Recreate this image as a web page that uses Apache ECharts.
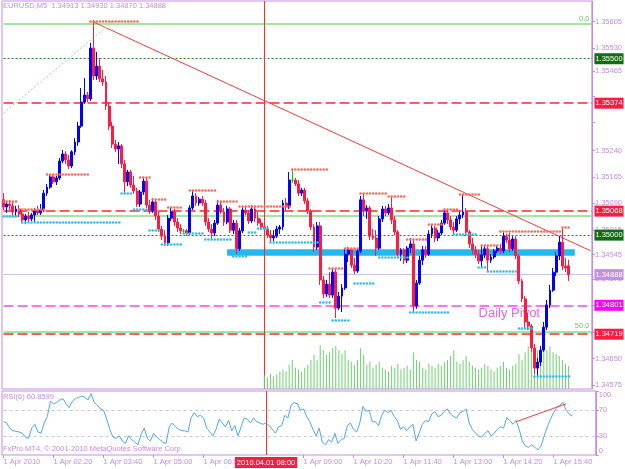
<!DOCTYPE html>
<html><head><meta charset="utf-8">
<script src="https://cdn.jsdelivr.net/npm/echarts@6/dist/echarts.min.js"></script>
<style>html,body{margin:0;padding:0;background:#fff}#c{width:625px;height:469px}</style>
</head><body><div id="c"></div>
<script>
// ---------- DATA ----------
// candles: [open, close, low, high], M5 bars from 01:00 to 16:10
const candles = [
[1.35100,1.35080,1.35071,1.35119],[1.35080,1.35088,1.35063,1.35094],[1.35088,1.35083,1.35071,1.35100],[1.35083,1.35066,1.35057,1.35097],[1.35066,1.35074,1.35054,1.35083],
[1.35074,1.35060,1.35051,1.35085],[1.35060,1.35043,1.35034,1.35071],[1.35043,1.35054,1.35031,1.35060],[1.35054,1.35046,1.35037,1.35066],[1.35046,1.35057,1.35040,1.35063],
[1.35057,1.35068,1.35037,1.35077],[1.35068,1.35063,1.35057,1.35083],[1.35063,1.35071,1.35057,1.35088],[1.35071,1.35119,1.35066,1.35128],[1.35119,1.35136,1.35111,1.35145],
[1.35136,1.35165,1.35131,1.35173],[1.35165,1.35151,1.35145,1.35170],[1.35151,1.35162,1.35142,1.35168],[1.35162,1.35210,1.35156,1.35219],[1.35210,1.35230,1.35204,1.35241],
[1.35230,1.35213,1.35202,1.35238],[1.35213,1.35196,1.35187,1.35227],[1.35196,1.35236,1.35190,1.35241],[1.35236,1.35264,1.35227,1.35275],[1.35264,1.35309,1.35253,1.35321],
[1.35309,1.35377,1.35304,1.35417],[1.35377,1.35397,1.35372,1.35445],[1.35397,1.35386,1.35377,1.35406],[1.35386,1.35530,1.35380,1.35545],[1.35530,1.35451,1.35440,1.35610],
[1.35451,1.35479,1.35440,1.35519],[1.35479,1.35443,1.35434,1.35502],[1.35443,1.35434,1.35423,1.35468],[1.35434,1.35366,1.35355,1.35451],[1.35366,1.35309,1.35298,1.35377],
[1.35309,1.35258,1.35247,1.35321],[1.35258,1.35244,1.35236,1.35270],[1.35244,1.35253,1.35202,1.35264],[1.35253,1.35202,1.35190,1.35258],[1.35202,1.35151,1.35119,1.35213],
[1.35151,1.35179,1.35139,1.35185],[1.35179,1.35142,1.35134,1.35185],[1.35142,1.35125,1.35117,1.35168],[1.35125,1.35088,1.35080,1.35134],[1.35088,1.35122,1.35080,1.35128],
[1.35122,1.35153,1.35114,1.35165],[1.35153,1.35085,1.35077,1.35162],[1.35085,1.35068,1.35060,1.35100],[1.35068,1.35094,1.35063,1.35105],[1.35094,1.35054,1.35043,1.35100],
[1.35054,1.35017,1.35009,1.35066],[1.35017,1.34997,1.34986,1.35026],[1.34997,1.34978,1.34969,1.35014],[1.34978,1.35048,1.34969,1.35057],[1.35048,1.35066,1.35040,1.35080],
[1.35066,1.35037,1.35026,1.35074],[1.35037,1.35020,1.35009,1.35048],[1.35020,1.35012,1.35003,1.35031],[1.35012,1.35012,1.35006,1.35017],[1.35012,1.35006,1.34997,1.35017],
[1.35006,1.35077,1.35000,1.35085],[1.35077,1.35111,1.35071,1.35128],[1.35111,1.35091,1.35083,1.35119],[1.35091,1.35102,1.35083,1.35108],[1.35102,1.35091,1.35083,1.35111],
[1.35091,1.35037,1.35026,1.35100],[1.35037,1.35017,1.35009,1.35048],[1.35017,1.35006,1.34986,1.35031],[1.35006,1.35034,1.34997,1.35043],[1.35034,1.35085,1.35029,1.35100],
[1.35085,1.35066,1.35060,1.35094],[1.35066,1.35037,1.35026,1.35077],[1.35037,1.35074,1.35031,1.35083],[1.35074,1.35014,1.35006,1.35080],[1.35014,1.35034,1.35003,1.35043],
[1.35034,1.34961,1.34946,1.35043],[1.34961,1.35012,1.34955,1.35020],[1.35012,1.35071,1.35006,1.35080],[1.35071,1.35063,1.35057,1.35083],[1.35063,1.35040,1.35031,1.35071],
[1.35040,1.35074,1.35034,1.35085],[1.35074,1.35048,1.35037,1.35083],[1.35048,1.35034,1.35026,1.35066],[1.35034,1.35023,1.35014,1.35046],[1.35023,1.35017,1.35009,1.35037],
[1.35017,1.35000,1.34992,1.35026],[1.35000,1.34992,1.34980,1.35014],[1.34992,1.34997,1.34983,1.35014],[1.34997,1.35017,1.34992,1.35026],[1.35017,1.35023,1.35003,1.35029],
[1.35023,1.35091,1.35014,1.35100],[1.35091,1.35080,1.35071,1.35105],[1.35080,1.35156,1.35074,1.35179],[1.35156,1.35156,1.35148,1.35187],[1.35156,1.35145,1.35139,1.35162],
[1.35145,1.35119,1.35111,1.35156],[1.35119,1.35128,1.35111,1.35134],[1.35128,1.35097,1.35088,1.35134],[1.35097,1.35068,1.35060,1.35105],[1.35068,1.35023,1.35014,1.35074],
[1.35023,1.34966,1.34952,1.35031],[1.34966,1.35026,1.34958,1.35037],[1.35026,1.34873,1.34859,1.35037],[1.34873,1.34833,1.34822,1.34884],[1.34833,1.34861,1.34825,1.34873],
[1.34861,1.34830,1.34822,1.34895],[1.34830,1.34895,1.34822,1.34907],[1.34895,1.34793,1.34765,1.34907],[1.34793,1.34827,1.34788,1.34839],[1.34827,1.34850,1.34782,1.34861],
[1.34850,1.34946,1.34844,1.34963],[1.34946,1.34958,1.34924,1.34966],[1.34958,1.34915,1.34907,1.34963],[1.34915,1.34898,1.34890,1.34935],[1.34898,1.34955,1.34893,1.34963],
[1.34955,1.35100,1.34949,1.35111],[1.35100,1.35068,1.35054,1.35119],[1.35068,1.35077,1.35046,1.35085],[1.35077,1.34997,1.34986,1.35083],[1.34997,1.34992,1.34986,1.35017],
[1.34992,1.34963,1.34941,1.35014],[1.34963,1.35046,1.34958,1.35054],[1.35046,1.35074,1.35037,1.35083],[1.35074,1.35063,1.35054,1.35083],[1.35063,1.35077,1.35057,1.35088],
[1.35077,1.35043,1.35031,1.35111],[1.35043,1.35009,1.35000,1.35054],[1.35009,1.34946,1.34935,1.35014],[1.34946,1.34958,1.34927,1.34963],[1.34958,1.34929,1.34918,1.34963],
[1.34929,1.34963,1.34921,1.34969],[1.34963,1.34975,1.34949,1.34992],[1.34975,1.34799,1.34782,1.34986],[1.34799,1.34864,1.34791,1.34873],[1.34864,1.34929,1.34859,1.34941],
[1.34929,1.34958,1.34915,1.34969],[1.34958,1.34946,1.34935,1.34969],[1.34946,1.35003,1.34941,1.35014],[1.35003,1.35020,1.34992,1.35031],[1.35020,1.34992,1.34980,1.35026],
[1.34992,1.35006,1.34983,1.35014],[1.35006,1.35034,1.35000,1.35043],[1.35034,1.35063,1.35029,1.35071],[1.35063,1.35043,1.35031,1.35074],[1.35043,1.35023,1.35014,1.35054],
[1.35023,1.35014,1.35003,1.35037],[1.35014,1.35046,1.35009,1.35054],[1.35046,1.35057,1.35031,1.35066],[1.35057,1.35066,1.35048,1.35117],[1.35066,1.35009,1.34997,1.35077],
[1.35009,1.34975,1.34963,1.35014],[1.34975,1.34958,1.34946,1.34992],[1.34958,1.34946,1.34935,1.34969],[1.34946,1.34927,1.34918,1.34958],[1.34927,1.34944,1.34910,1.34972],
[1.34944,1.34961,1.34935,1.34969],[1.34961,1.34929,1.34898,1.34969],[1.34929,1.34938,1.34921,1.34946],[1.34938,1.34955,1.34932,1.34961],[1.34955,1.34963,1.34949,1.34969],
[1.34963,1.34955,1.34946,1.34975],[1.34955,1.34997,1.34949,1.35012],[1.34997,1.34986,1.34978,1.35003],[1.34986,1.34961,1.34952,1.35006],[1.34961,1.34989,1.34955,1.34997],
[1.34989,1.34941,1.34932,1.34997],[1.34941,1.34870,1.34861,1.34946],[1.34870,1.34819,1.34810,1.34876],[1.34819,1.34754,1.34737,1.34827],[1.34754,1.34742,1.34731,1.34779],
[1.34742,1.34680,1.34669,1.34748],[1.34680,1.34623,1.34606,1.34691],[1.34623,1.34640,1.34598,1.34652],[1.34640,1.34674,1.34629,1.34686],[1.34674,1.34739,1.34669,1.34754],
[1.34739,1.34802,1.34731,1.34816],[1.34802,1.34844,1.34793,1.34859],[1.34844,1.34895,1.34839,1.34907],[1.34895,1.34941,1.34884,1.34952],[1.34941,1.34980,1.34929,1.34997],
[1.34980,1.34912,1.34901,1.35020],[1.34912,1.34907,1.34895,1.34935],[1.34913,1.34888,1.34870,1.34930]
];
// tick volume (only drawn from 08:00 on, as in the picture)
const volumes = [
null,null,null,null,null,null,null,null,null,null,null,null,
null,null,null,null,null,null,null,null,null,null,null,null,
null,null,null,null,null,null,null,null,null,null,null,null,
null,null,null,null,null,null,null,null,null,null,null,null,
null,null,null,null,null,null,null,null,null,null,null,null,
null,null,null,null,null,null,null,null,null,null,null,null,
null,null,null,null,null,null,null,null,null,null,null,null,
14,12,16,13,15,18,
20,18,25,30,22,20,18,22,25,30, 35,30,45,40,35,38,42,44,40,36, 40,30,28,25,30,42,35,25,28,22,
25,28,22,20,18,24,22,26,20,22, 24,20,38,30,28,22,20,26,24,22, 26,24,28,30,34,40,28,26,30,34,
28,24,22,20,22,26,24,20,18,22, 24,28,22,20,24,26,36,30,38,44, 40,46,40,42,46,40,44,38,36,34,
30,26,24
];
const rsi = [
52,50,42,38,37,36,34,28,26,42, 48,36,34,50,60,84,80,82,86,88,
80,74,84,88,90,92,90,86,96,82, 78,72,70,56,40,28,26,30,22,18,
30,24,20,16,32,42,26,22,34,28, 24,20,18,44,50,44,40,38,38,36,
58,66,60,62,58,42,36,30,40,56, 50,44,54,38,46,30,44,58,56,50,
58,52,50,48,50,46,40,34,44,46, 62,58,78,82,80,70,72,60,52,40,
30,42,20,16,24,20,34,18,24,26, 46,50,40,36,50,76,68,70,52,52,
46,62,70,66,70,60,54,40,44,38, 44,48,22,34,48,54,52,64,68,60,
62,68,72,64,60,58,66,68,72,50, 40,34,30,28,34,38,30,34,40,44,
42,58,54,48,54,40,22,14,12,16, 12,8,14,30,44,56,66,74,78,82,
70,64,60.8599
];
// price axis ticks / labels
const priceTicks = [1.35605,1.35530,1.35465,1.35395,1.35320,1.35240,1.35165,1.35090,1.35015,1.34945,1.34875,1.34800,1.34725,1.34650,1.34575];
const priceLabels = [1.35605,1.35530,1.35465,1.35240,1.35165,1.35090,1.35015,1.34945,1.34875,1.34650,1.34575];
const rsiLabels = [0,30,70,100];
const timeTickIdx = [0,16,32,48,64,96,112,128,144,160,176];
const timeTickLabels = ["1 Apr 2010","1 Apr 02:20","1 Apr 03:40","1 Apr 05:00","1 Apr 06:20","1 Apr 09:00","1 Apr 10:20","1 Apr 11:40","1 Apr 13:00","1 Apr 14:20","1 Apr 15:40"];
// horizontal objects
const fibLevels = [1.35600, 1.35056, 1.34727];
const fibLabels = ["0.0", "", "50.0"];
const redLevels = [1.35374, 1.35068, 1.34719];
const greenDotLevels = [1.35500, 1.35000];
const pivotLevel = 1.34801;
const bidLevel = 1.34888;
const bandLevel = [71.5, 183.8, 1.34951];
const trendLine = [[28.6, 1.35604], [188.6, 1.34956]];
const fibTrend = [[-0.5, 1.35346], [35.0, 1.35604]];
const rsiTrend = [[164, 52], [180, 80]];
const crossIdx = 84;
// fractal resistance / support rows: [fromBar, toBar, price]
const resistRows = [[28.3,43.7,1.35607],[0.1,4.9,1.35097],[5.3,13.9,1.35074],[14.2,28.0,1.35173],[44.3,47.8,1.35165],[48.1,53.0,1.35102],[53.3,58.1,1.35078],[60.3,69.3,1.35126],[69.3,76.0,1.35097],[76.3,93.0,1.35081],[93.3,105.1,1.35187],[105.1,109.9,1.34907],[110.2,115.0,1.34963],[115.0,124.0,1.35119],[124.3,130.1,1.35111],[130.4,137.4,1.34989],[137.4,141.9,1.35031],[142.2,147.0,1.35074],[147.0,153.7,1.35116],[154.1,159.8,1.34972],[160.1,180.3,1.35012],[179.7,182.9,1.35023]];
const supportRows = [[-0.5,5.3,1.35054],[6.2,37.9,1.35037],[38.2,42.1,1.35119],[42.1,46.9,1.35074],[47.2,51.0,1.35015],[51.3,57.7,1.34975],[58.4,64.8,1.35006],[65.1,73.7,1.34989],[74.4,78.9,1.34941],[79.2,81.7,1.35009],[82.1,85.9,1.35020],[86.2,101.9,1.34980],[102.2,106.1,1.34810],[106.4,111.8,1.34759],[112.5,119.8,1.34863],[120.5,130.7,1.34938],[131.0,143.8,1.34782],[144.5,153.1,1.35003],[153.4,156.3,1.34910],[156.3,165.9,1.34898],[166.2,170.7,1.34737],[171.0,182.9,1.34601]];

// ---------- CHART ----------
const VIOLET = '#c58be3';
const FONT = "'Liberation Sans', Arial, sans-serif";
const FS = 7.5;
const X0 = -0.5, X1 = 189.5;
const pad = n => (n < 10 ? '0' : '') + n;
const times = [];
for (let i = 0; i < 190; i++) { const m = 60 + 5 * i; times.push(pad(Math.floor(m / 60)) + ':' + pad(m % 60)); }
const showTick = idx => timeTickIdx.indexOf(idx) >= 0;

const hline = (v, style) => ({coords: [[X0, v], [X1, v]], lineStyle: Object.assign({opacity: 1}, style)});
const objData = [];
fibLevels.forEach(v => objData.push(hline(v, {color: '#86dc86', width: 1.5, type: 'solid'})));
greenDotLevels.forEach(v => objData.push(hline(v, {color: '#2f7a2f', width: 1, type: [2, 2]})));
objData.push({coords: [[bandLevel[0], bandLevel[2]], [bandLevel[1], bandLevel[2]]], lineStyle: {color: '#22b8f0', width: 6.5, type: 'solid', opacity: 1}});
objData.push(hline(bidLevel, {color: '#8a90cc', width: 1, type: [1, 1]}));
objData.push(hline(pivotLevel, {color: '#ff44ff', width: 1.5, type: [10, 4]}));
redLevels.forEach(v => objData.push(hline(v, {color: '#ff2a2a', width: 1.5, type: [10, 4]})));
objData.push({coords: trendLine, lineStyle: {color: '#ff3a3a', width: 1, type: 'solid', opacity: 1}});
objData.push({coords: fibTrend, lineStyle: {color: '#90dd90', width: 1, type: [2, 2], opacity: 1}});

const rowItems = (rows, color) => rows.map(r => ({coords: [[r[0], r[2]], [r[1], r[2]]], lineStyle: {color: color}}));

const option = {
  animation: false,
  backgroundColor: '#ffffff',
  grid: [
    {left: 2, top: 1, width: 593.75, height: 388, show: true, borderColor: VIOLET, borderWidth: 1},
    {left: 2, top: 391, width: 593.75, height: 64, show: true, borderColor: VIOLET, borderWidth: 1}
  ],
  xAxis: [
    {type: 'category', gridIndex: 0, data: times, boundaryGap: true, show: false},
    {type: 'category', gridIndex: 1, data: times, boundaryGap: true,
      axisLine: {show: false},
      axisTick: {show: true, alignWithLabel: true, interval: showTick, length: 3, lineStyle: {color: VIOLET}},
      axisLabel: {interval: showTick, align: 'left', margin: 3, color: VIOLET, fontSize: FS, fontFamily: FONT,
        formatter: (v, idx) => { const k = timeTickIdx.indexOf(idx); return k >= 0 ? timeTickLabels[k] : ''; }}}
  ],
  yAxis: [
    {type: 'value', gridIndex: 0, position: 'right', min: 1.345637, max: 1.356637, splitLine: {show: false},
      axisLine: {show: true, lineStyle: {color: VIOLET}},
      axisTick: {show: true, length: 3, lineStyle: {color: VIOLET}, customValues: priceTicks},
      axisLabel: {customValues: priceLabels, formatter: v => v.toFixed(5), color: VIOLET, fontSize: FS, fontFamily: FONT, margin: 3}},
    {type: 'value', gridIndex: 0, min: 0, max: 400, show: false},
    {type: 'value', gridIndex: 1, position: 'right', min: 0, max: 100, splitLine: {show: false},
      axisLine: {show: true, lineStyle: {color: VIOLET}},
      axisTick: {show: true, length: 3, lineStyle: {color: VIOLET}, customValues: rsiLabels},
      axisLabel: {customValues: rsiLabels, color: VIOLET, fontSize: FS, fontFamily: FONT, margin: 3,
        verticalAlignMinLabel: 'bottom', verticalAlignMaxLabel: 'top'}}
  ],
  series: [
    {type: 'lines', name: 'objects', coordinateSystem: 'cartesian2d', xAxisIndex: 0, yAxisIndex: 0, z: 1, silent: true, data: objData},
    {type: 'lines', name: 'crossMain', coordinateSystem: 'cartesian2d', xAxisIndex: 0, yAxisIndex: 0, z: 1, silent: true,
      data: [{coords: [[crossIdx, 1.345637], [crossIdx, 1.356637]], lineStyle: {color: '#ff2a2a', width: 1, type: 'solid', opacity: 1}}]},
    {type: 'bar', name: 'volume', xAxisIndex: 0, yAxisIndex: 1, data: volumes, barWidth: 1, z: 2, silent: true,
      itemStyle: {color: '#6fd06f'}},
    {type: 'candlestick', name: 'EURUSD', xAxisIndex: 0, yAxisIndex: 0, data: candles, barWidth: 2.4, z: 3, silent: true,
      itemStyle: {color: '#0000ff', color0: '#ff1a40', borderColor: '#0000ff', borderColor0: '#ff1a40', borderColorDoji: '#00cc00', borderWidth: 1}},
    {type: 'lines', name: 'fractals', coordinateSystem: 'cartesian2d', xAxisIndex: 0, yAxisIndex: 0, z: 4, silent: true,
      lineStyle: {width: 2.6, type: [0.01, 3.125], cap: 'round', opacity: 1},
      data: rowItems(resistRows, '#ff6a5a').concat(rowItems(supportRows, '#33bdf0'))},
    {type: 'lines', name: 'rsiObjects', coordinateSystem: 'cartesian2d', xAxisIndex: 1, yAxisIndex: 2, z: 1, silent: true,
      data: [
        {coords: [[X0, 70], [X1, 70]], lineStyle: {color: '#c8c8e6', width: 1, type: [3, 3], opacity: 1}},
        {coords: [[X0, 30], [X1, 30]], lineStyle: {color: '#c8c8e6', width: 1, type: [3, 3], opacity: 1}},
        {coords: [[crossIdx, 0], [crossIdx, 100]], lineStyle: {color: '#ff2a2a', width: 1, type: 'solid', opacity: 1}}
      ]},
    {type: 'line', name: 'RSI', xAxisIndex: 1, yAxisIndex: 2, data: rsi, showSymbol: false, z: 3, silent: true,
      lineStyle: {color: '#4ea6f5', width: 1}, itemStyle: {color: '#4ea6f5'}},
    {type: 'lines', name: 'rsiTrend', coordinateSystem: 'cartesian2d', xAxisIndex: 1, yAxisIndex: 2, z: 4, silent: true,
      data: [{coords: rsiTrend, lineStyle: {color: '#ff3a3a', width: 1, type: 'solid', opacity: 1}}]}
  ]
};
const chart = echarts.init(document.getElementById('c'), null, {renderer: 'canvas'});
chart.setOption(option);

const py = v => chart.convertToPixel({yAxisIndex: 0}, v);
const cx = chart.convertToPixel({xAxisIndex: 1}, crossIdx);
const pv = chart.convertToPixel({xAxisIndex: 0, yAxisIndex: 0}, [153.4, pivotLevel]);
const right = chart.convertToPixel({xAxisIndex: 0}, X1);
const txt = (x, y, s, color, size, extra) => Object.assign({type: 'text', x: x, y: y, silent: true, z: 10,
  style: {text: s, fill: color, fontSize: size, fontFamily: FONT}}, extra || {});
const box = (v, bg) => ({type: 'text', x: right + 1, y: py(v), z: 20, silent: true,
  style: {text: v.toFixed(5), fill: '#fff', fontSize: FS, fontFamily: FONT, verticalAlign: 'middle',
    backgroundColor: bg, padding: [2, 1, 1, 1]}});
const graphics = [
  txt(3, 2, 'EURUSD,M5  1.34913 1.34930 1.34870 1.34888', VIOLET, FS),
  txt(3, 393, 'RSI(6) 60.8599', VIOLET, FS),
  txt(3, 445, 'FxPro MT4, \u00a9 2001-2010 MetaQuotes Software Corp.', VIOLET, FS),
  txt(pv[0], pv[1] + 2, 'Daily Pivot', '#e466e4', 13, {z: 1}),
  {type: 'text', x: cx, y: 457, z: 20, silent: true,
    style: {text: '2010.04.01 08:00', fill: '#fff', fontSize: FS, fontFamily: FONT, align: 'center',
      backgroundColor: '#ff1a40', padding: [2, 2, 1, 2]}}
];
fibLevels.forEach((v, k) => { if (fibLabels[k]) graphics.push(txt(right - 4, py(v) - 1, fibLabels[k], '#6cc86c', FS, {style: {text: fibLabels[k], fill: '#6cc86c', fontSize: FS, fontFamily: FONT, align: 'right', verticalAlign: 'bottom'}})); });
greenDotLevels.forEach(v => graphics.push(box(v, '#106d10')));
redLevels.forEach(v => graphics.push(box(v, '#ff1a40')));
graphics.push(box(bidLevel, '#c48ee4'));
graphics.push(box(pivotLevel, '#ff00ff'));
chart.setOption({graphic: graphics});
</script></body></html>
